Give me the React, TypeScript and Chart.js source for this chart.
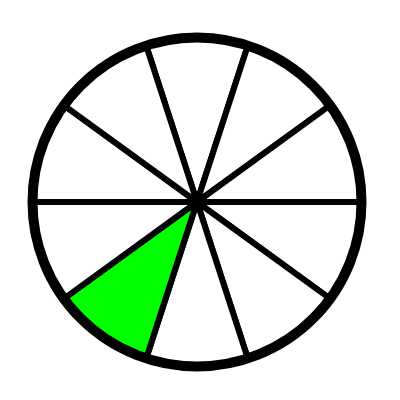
import React, { useEffect, useRef } from "react";
import { Chart, registerables } from "chart.js";

Chart.register(...registerables);

const categories = ["1", "2", "3", "4", "5", "6", "7", "8", "9", "10"];
const sliceValues = [1, 1, 1, 1, 1, 1, 1, 1, 1, 1];
const sliceColors = [
  "#ffffff", "#ffffff", "#ffffff", "#ffffff", "#ffffff",
  "#ffffff", "#00ff00", "#ffffff", "#ffffff", "#ffffff",
];

const outerRing = {
  id: "outerRing",
  afterDatasetsDraw(chart: any) {
    const meta = chart.getDatasetMeta(0);
    const arc = meta.data[0];
    if (!arc) return;
    const { x, y, outerRadius } = arc.getProps(["x", "y", "outerRadius"], true);
    const ctx = chart.ctx;
    ctx.save();
    ctx.beginPath();
    ctx.arc(x, y, outerRadius + 0.5, 0, Math.PI * 2);
    ctx.lineWidth = 10;
    ctx.strokeStyle = "#000000";
    ctx.stroke();
    ctx.restore();
  },
};

export default function App() {
  const ref = useRef<HTMLCanvasElement>(null);
  useEffect(() => {
    if (!ref.current) return;
    const chart = new Chart(ref.current, {
      type: "pie",
      data: {
        labels: categories,
        datasets: [
          {
            data: sliceValues,
            backgroundColor: sliceColors,
            borderColor: "#000000",
            borderWidth: 6,
          },
        ],
      },
      options: {
        animation: false,
        responsive: false,
        rotation: -18,
        layout: { padding: { left: 30, right: 36, top: 35, bottom: 31 } },
        plugins: {
          legend: { display: false },
          tooltip: { enabled: false },
        },
      },
      plugins: [outerRing],
    });
    return () => chart.destroy();
  }, []);
  return (
    <div style={{ position: "absolute", left: 0, top: 0, width: 400, height: 400, background: "#fff" }}>
      <canvas ref={ref} width={400} height={400} style={{ width: 400, height: 400 }} />
    </div>
  );
}
